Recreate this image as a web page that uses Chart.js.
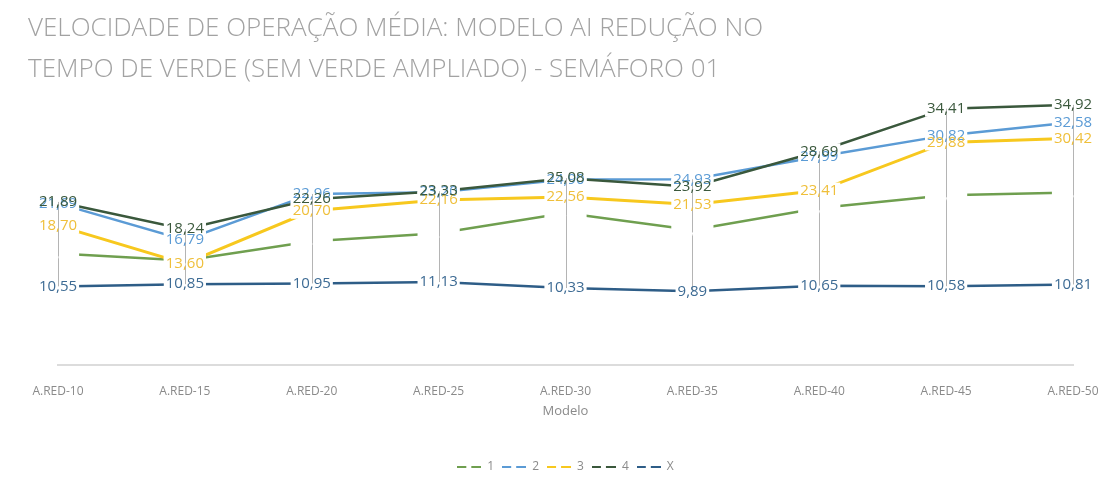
<!DOCTYPE html>
<html>
<head>
<meta charset="utf-8">
<script src="https://cdn.jsdelivr.net/npm/chart.js@4/dist/chart.umd.min.js"></script>
<style>
  html, body { margin: 0; background: #fff; }
  #wrap { width: 1119px; height: 489px; position: relative; }
</style>
</head>
<body>
<div id="wrap"><canvas id="chart"></canvas></div>
<script>
const modelos = ['A.RED-10', 'A.RED-15', 'A.RED-20', 'A.RED-25', 'A.RED-30', 'A.RED-35', 'A.RED-40', 'A.RED-45', 'A.RED-50'];
const serie1 = [14.97, 14.02, 16.62, 17.68, 20.40, 18.12, 21.07, 22.80, 23.14];
const serie2 = [21.69, 16.79, 22.96, 23.20, 24.90, 24.93, 27.99, 30.82, 32.58];
const serie3 = [18.70, 13.60, 20.70, 22.16, 22.56, 21.53, 23.41, 29.88, 30.42];
const serie4 = [21.89, 18.24, 22.26, 23.33, 25.08, 23.92, 28.69, 34.41, 34.92];
const serieX = [10.55, 10.85, 10.95, 11.13, 10.33, 9.89, 10.65, 10.58, 10.81];

const nomes = ['1', '2', '3', '4', 'X'];
const valores = [serie1, serie2, serie3, serie4, serieX];
const corLinha = ['#6f9f4f', '#5b9bd5', '#f7c81e', '#3a583c', '#2e5d87'];
const corRotulo = ['#ffffff', '#5b9bd5', '#efbf3a', '#3a583c', '#3d6b94'];
const titulo = ['VELOCIDADE DE OPERAÇÃO MÉDIA: MODELO AI REDUÇÃO NO',
                'TEMPO DE VERDE (SEM VERDE AMPLIADO) - SEMÁFORO 01'];

const cinza = '#8a8a8a';
const fonte = "'Open Sans', 'DejaVu Sans', sans-serif";

// pequeno ícone "— —" para a legenda
function iconeLegenda(cor) {
  const c = document.createElement('canvas');
  c.width = 24; c.height = 4;
  const g = c.getContext('2d');
  g.fillStyle = cor;
  g.fillRect(0, 1, 9, 2);
  g.fillRect(14, 1, 10, 2);
  return c;
}

// linhas de máximo/mínimo em cada categoria
function desenhaAltaBaixa(chart) {
  const { ctx, scales: { x, y } } = chart;
  ctx.save();
  ctx.strokeStyle = '#b4b4b4';
  ctx.lineWidth = 1;
  modelos.forEach((m, i) => {
    const col = valores.map(s => s[i]);
    const px = Math.round(x.getPixelForValue(i)) + 0.5;
    ctx.beginPath();
    ctx.moveTo(px, y.getPixelForValue(Math.max(...col)));
    ctx.lineTo(px, y.getPixelForValue(Math.min(...col)));
    ctx.stroke();
  });
  ctx.restore();
}

// rótulos de valor com fundo branco (as linhas alta-baixa ficam por cima do fundo)
const rotulos = {
  id: 'rotulos',
  afterDatasetsDraw(chart) {
    const ctx = chart.ctx;
    ctx.save();
    ctx.font = '15px ' + fonte;
    ctx.textAlign = 'center';
    ctx.textBaseline = 'middle';
    const itens = [];
    chart.data.datasets.forEach((ds, d) => {
      chart.getDatasetMeta(d).data.forEach((pt, i) => {
        const txt = ds.data[i].toFixed(2).replace('.', ',');
        itens.push({ x: pt.x, y: pt.y, txt, cor: corRotulo[d] });
      });
    });
    ctx.fillStyle = '#ffffff';
    itens.forEach(it => {
      const w = ctx.measureText(it.txt).width + 4;
      ctx.fillRect(it.x - w / 2, it.y - 8, w, 16);
    });
    desenhaAltaBaixa(chart);
    itens.forEach(it => {
      ctx.fillStyle = it.cor;
      ctx.fillText(it.txt, it.x, it.y);
    });
    ctx.restore();
  }
};

// título em duas linhas alinhado à esquerda
const cabecalho = {
  id: 'cabecalho',
  afterDraw(chart) {
    const ctx = chart.ctx;
    ctx.save();
    ctx.font = '300 26px ' + fonte;
    ctx.fillStyle = '#a2a2a2';
    ctx.textBaseline = 'middle';
    ctx.fillText(titulo[0], 28, 29);
    ctx.fillText(titulo[1], 28, 70);
    ctx.restore();
  }
};

new Chart(document.getElementById('chart'), {
  type: 'line',
  data: {
    labels: modelos,
    datasets: valores.map((v, i) => ({
      label: nomes[i],
      data: v,
      borderColor: corLinha[i],
      backgroundColor: corLinha[i],
      borderWidth: i === 2 ? 3 : 2.5,
      pointRadius: 0,
      tension: 0,
      order: 5 - i
    }))
  },
  options: {
    responsive: true,
    maintainAspectRatio: false,
    animation: false,
    layout: { padding: { left: 58, right: 46, top: 67, bottom: 6 } },
    scales: {
      x: {
        offset: false,
        grid: { display: false },
        border: { display: true, color: '#dcdcdc', width: 2 },
        ticks: { color: cinza, font: { family: fonte, size: 12 }, padding: 11, maxRotation: 0, autoSkip: false },
        title: { display: true, text: 'Modelo', color: cinza, font: { family: fonte, size: 13 }, padding: { top: -6, bottom: 34 } }
      },
      y: { display: false, min: 0, max: 40 }
    },
    plugins: {
      legend: {
        position: 'bottom',
        labels: {
          color: cinza,
          font: { family: fonte, size: 12 },
          usePointStyle: true,
          pointStyleWidth: 24,
          boxHeight: 4,
          padding: 8,
          generateLabels: chart => chart.data.datasets.map((ds, i) => ({
            text: ds.label,
            fillStyle: ds.borderColor,
            strokeStyle: ds.borderColor,
            lineWidth: 0,
            pointStyle: iconeLegenda(ds.borderColor),
            hidden: false,
            datasetIndex: i,
            fontColor: cinza
          }))
        }
      },
      tooltip: { enabled: false }
    }
  },
  plugins: [rotulos, cabecalho]
});
</script>
</body>
</html>
